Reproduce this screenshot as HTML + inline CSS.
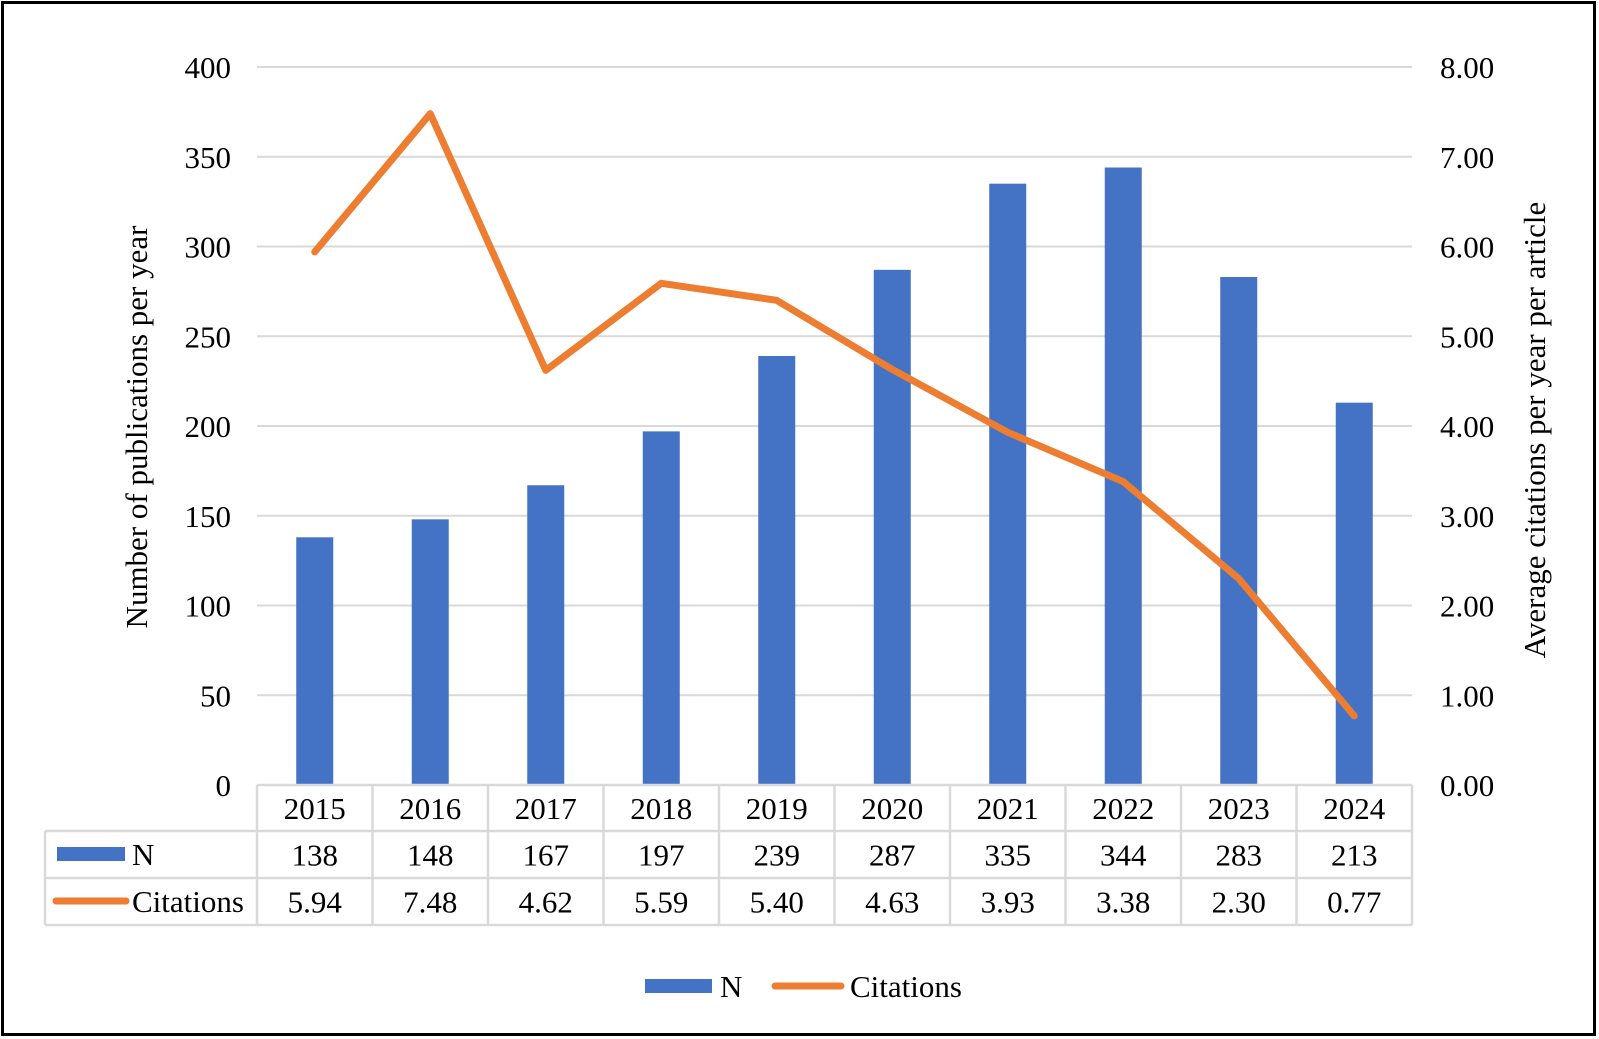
<!DOCTYPE html>
<html><head><meta charset="utf-8"><style>
body{margin:0;background:#fff}
svg{display:block;font-family:"Liberation Serif","Times New Roman",serif}
</style></head><body>
<svg id="chart" width="1599" height="1039">
<rect x="2.5" y="2.5" width="1592" height="1032" fill="#fff" stroke="#000" stroke-width="3"/>
<g id="grid"></g><g id="bars"></g><g id="line"></g><g id="axes"></g><g id="table"></g>
<text x="140" y="427" font-size="31" text-anchor="middle" dominant-baseline="middle" transform="rotate(-90 140 427)">Number of publications per year</text>
<text x="1538" y="430" font-size="31" text-anchor="middle" dominant-baseline="middle" transform="rotate(-90 1538 430)">Average citations per year per article</text>
<g>
<rect x="645" y="979" width="67" height="14" fill="#4472c4"/>
<text x="720" y="997" font-size="31">N</text>
<line x1="775" y1="986" x2="841" y2="986" stroke="#ed7d31" stroke-width="7" stroke-linecap="round"/>
<text x="850" y="997" font-size="31">Citations</text>
</g>
</svg>
<script>
const years=["2015","2016","2017","2018","2019","2020","2021","2022","2023","2024"];
const nValues=[138,148,167,197,239,287,335,344,283,213];
const citations=[5.94,7.48,4.62,5.59,5.40,4.63,3.93,3.38,2.30,0.77];
const leftTicks=[0,50,100,150,200,250,300,350,400];
const rightTicks=["0.00","1.00","2.00","3.00","4.00","5.00","6.00","7.00","8.00"];
const NS="http://www.w3.org/2000/svg";
const X0=257,X1=1412,Y0=785,Y1=67;
const bw=(X1-X0)/years.length;
const yL=v=>Y0-(v/400)*(Y0-Y1);
const yR=v=>Y0-(v/8)*(Y0-Y1);
const xC=i=>X0+bw*(i+0.5);
function mk(t,a,p){const e=document.createElementNS(NS,t);for(const k in a)e.setAttribute(k,a[k]);document.getElementById(p).appendChild(e);return e;}
leftTicks.forEach((v,i)=>{
 if(v>0){const g=mk('line',{x1:X0,x2:X1,y1:yL(v),y2:yL(v),stroke:'#d9d9d9','stroke-width':2},'grid');
 
 }
 const t=mk('text',{x:231,y:yL(v)+11,'font-size':31,'text-anchor':'end'},'axes');t.textContent=v;
 
 
 const r=mk('text',{x:1440,y:yR(i)+11,'font-size':31},'axes');r.textContent=rightTicks[i];
 
 
});
nValues.forEach((v,i)=>{
 const b=mk('rect',{x:xC(i)-18.5,y:yL(v),width:37,height:Y0-yL(v),fill:'#4472c4'},'bars');
 
 
});
const pl=mk('polyline',{points:citations.map((v,i)=>xC(i)+','+yR(v)).join(' '),fill:'none',stroke:'#ed7d31','stroke-width':7,'stroke-linejoin':'round','stroke-linecap':'round'},'line');


const rows=[785,831,878,925];
const TL=45, lc='#d9d9d9';
function L(x1,y1,x2,y2){const l=mk('line',{x1,y1,x2,y2,stroke:lc,'stroke-width':2.5},'table');
 
 }
L(X0,rows[0],X1,rows[0]);L(TL,rows[1],X1,rows[1]);L(TL,rows[2],X1,rows[2]);L(TL,rows[3],X1,rows[3]);
L(TL,rows[1],TL,rows[3]);
for(let i=0;i<=years.length;i++)L(X0+bw*i,rows[0],X0+bw*i,rows[3]);
const rowVals=[years,nValues.map(String),citations.map(v=>v.toFixed(2))];
rowVals.forEach((arr,r)=>arr.forEach((s,i)=>{
 const t=mk('text',{x:xC(i),y:(rows[r]+rows[r+1])/2+11,'font-size':31,'text-anchor':'middle'},'table');t.textContent=s;
 
 
}));
const s1=mk('rect',{x:57,y:847,width:68,height:14,fill:'#4472c4'},'table');


const t1=mk('text',{x:132,y:865,'font-size':31},'table');t1.textContent='N';


const s2=mk('line',{x1:56,y1:901,x2:126,y2:901,stroke:'#ed7d31','stroke-width':7,'stroke-linecap':'round'},'table');


const t2=mk('text',{x:132,y:912,'font-size':31},'table');t2.textContent='Citations';


</script>
</body></html>
